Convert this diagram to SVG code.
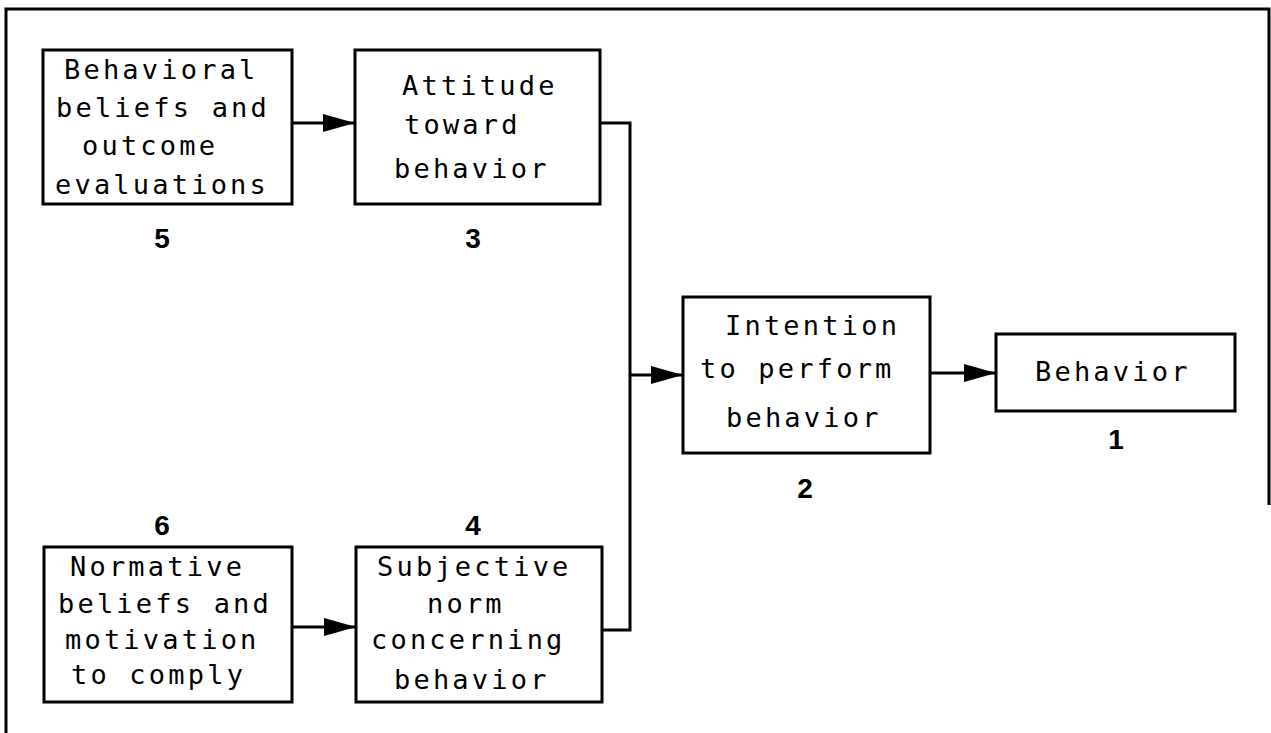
<svg xmlns="http://www.w3.org/2000/svg" width="1271" height="733" viewBox="0 0 1271 733">
<style>
.box{fill:#fff;stroke:#000;stroke-width:3}
.t{font-family:"DejaVu Sans Mono","Liberation Mono",monospace;font-size:27px;letter-spacing:3.2px;fill:#000}
.n{font-family:"Liberation Sans",Arial,sans-serif;font-size:28px;font-weight:bold;fill:#000;text-anchor:middle}
.c{fill:none;stroke:#000;stroke-width:3}
</style>
<defs>
<marker id="ah" markerUnits="userSpaceOnUse" markerWidth="33" markerHeight="20" refX="32" refY="10" orient="auto">
<path d="M0,1 L32,10 L0,19 Z" fill="#000"/>
</marker>
</defs>
<rect width="1271" height="733" fill="#fff"/>
<path d="M6,733 L6,9 L1269,9 L1269,505" fill="none" stroke="#000" stroke-width="3"/>
<g id="connectors">
<line class="c" x1="292" y1="123" x2="355" y2="123" marker-end="url(#ah)"/>
<line class="c" x1="292" y1="627" x2="356" y2="627" marker-end="url(#ah)"/>
<polyline class="c" points="600,123 630,123 630,630 602,630"/>
<line class="c" x1="630" y1="375" x2="683" y2="375" marker-end="url(#ah)"/>
<line class="c" x1="930" y1="373" x2="996" y2="373" marker-end="url(#ah)"/>
</g>
<g id="node5">
<rect class="box" x="43" y="50" width="249" height="154"/>
<text class="t" x="64" y="79">Behavioral</text>
<text class="t" x="56" y="117">beliefs and</text>
<text class="t" x="82" y="155">outcome</text>
<text class="t" x="55" y="194">evaluations</text>
<text class="n" x="162" y="248">5</text>
</g>
<g id="node3">
<rect class="box" x="355" y="50" width="245" height="154"/>
<text class="t" x="402" y="95">Attitude</text>
<text class="t" x="404" y="134">toward</text>
<text class="t" x="394" y="178">behavior</text>
<text class="n" x="473" y="248">3</text>
</g>
<g id="node2">
<rect class="box" x="683" y="297" width="247" height="156"/>
<text class="t" x="725" y="335">Intention</text>
<text class="t" x="700" y="378">to perform</text>
<text class="t" x="726" y="427">behavior</text>
<text class="n" x="805" y="498">2</text>
</g>
<g id="node1">
<rect class="box" x="996" y="334" width="239" height="77"/>
<text class="t" x="1035" y="381">Behavior</text>
<text class="n" x="1116" y="449">1</text>
</g>
<g id="node6">
<rect class="box" x="44" y="547" width="248" height="155"/>
<text class="t" x="70" y="576">Normative</text>
<text class="t" x="58" y="613">beliefs and</text>
<text class="t" x="65" y="649">motivation</text>
<text class="t" x="71" y="684">to comply</text>
<text class="n" x="162" y="535">6</text>
</g>
<g id="node4">
<rect class="box" x="356" y="547" width="246" height="155"/>
<text class="t" x="377" y="576">Subjective</text>
<text class="t" x="427" y="613">norm</text>
<text class="t" x="371" y="649">concerning</text>
<text class="t" x="394" y="689">behavior</text>
<text class="n" x="473" y="535">4</text>
</g>
</svg>
